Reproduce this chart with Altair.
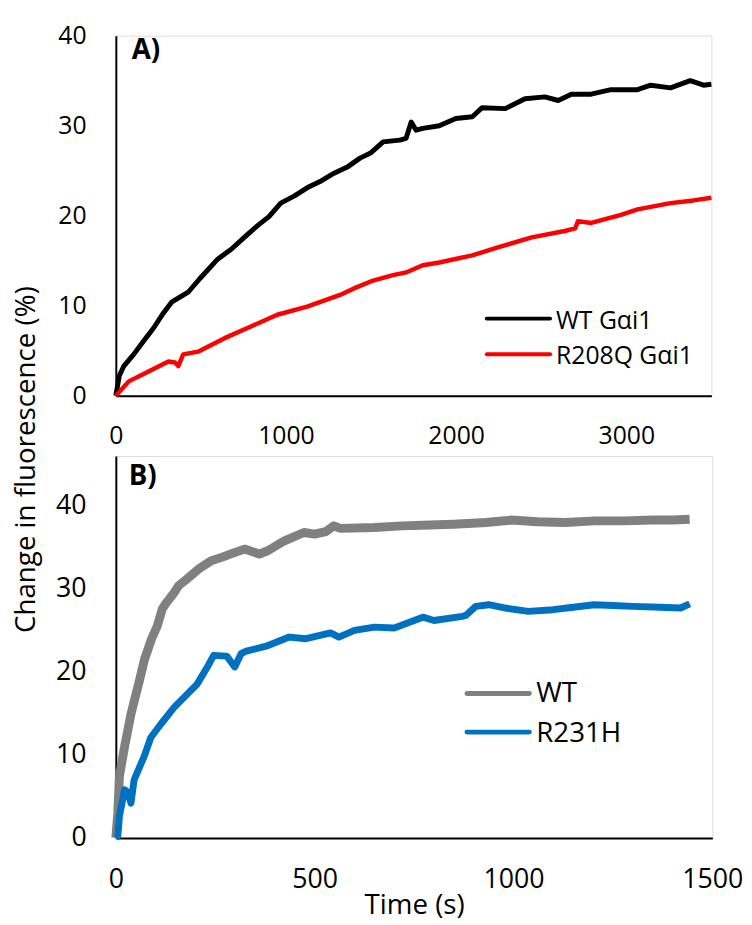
import altair as alt
import pandas as pd

# ---------------- Panel A data (time s, change %) ----------------
a_wt_t = [0, 20, 47, 105, 160, 221, 280, 328, 425, 493, 600, 680, 755, 833, 900, 969, 1050, 1124,
          1200, 1280, 1360, 1435, 1500, 1571, 1668, 1706, 1736, 1765, 1804, 1901, 1998, 2095, 2153,
          2289, 2405, 2522, 2600, 2677, 2794, 2910, 3066, 3143, 3260, 3376, 3454, 3500]
a_wt_v = [0, 2.2, 3.3, 4.6, 6.0, 7.5, 9.2, 10.4, 11.5, 13.0, 15.2, 16.3, 17.6, 18.9, 19.9, 21.4,
          22.2, 23.1, 23.8, 24.7, 25.4, 26.4, 27.0, 28.2, 28.4, 28.6, 30.4, 29.5, 29.7, 30.0, 30.8,
          31.0, 32.0, 31.9, 33.0, 33.2, 32.8, 33.5, 33.5, 34.0, 34.0, 34.5, 34.2, 35.0, 34.5, 34.6]

a_mut_t = [0, 76, 192, 309, 348, 367, 396, 483, 639, 794, 949, 1124, 1318, 1396, 1512, 1629,
           1706, 1804, 1901, 2095, 2250, 2444, 2638, 2700, 2716, 2794, 2969, 3066, 3260, 3395, 3500]
a_mut_v = [0, 1.6, 2.7, 3.8, 3.7, 3.3, 4.6, 4.9, 6.4, 7.7, 9.0, 9.9, 11.2, 11.9, 12.8, 13.4,
           13.7, 14.5, 14.8, 15.6, 16.5, 17.6, 18.3, 18.6, 19.4, 19.2, 20.1, 20.7, 21.4, 21.7, 22.0]

# ---------------- Panel B data ----------------
b_wt_t = [0, 5, 9, 22, 38, 59, 72, 90, 104, 117, 125, 146, 158, 179, 208, 240, 266, 300, 324,
          361, 382, 424, 473, 500, 528, 548, 565, 650, 720, 789, 850, 930, 995, 1060, 1130, 1204,
          1280, 1350, 1400, 1443]
b_wt_v = [0, 3.0, 7.4, 11.0, 14.9, 18.9, 21.5, 24.0, 25.5, 27.6, 28.2, 29.5, 30.4, 31.2, 32.4,
          33.4, 33.8, 34.4, 34.8, 34.2, 34.6, 35.8, 36.8, 36.6, 36.9, 37.6, 37.3, 37.4, 37.6, 37.7,
          37.8, 38.0, 38.3, 38.1, 38.0, 38.2, 38.2, 38.3, 38.3, 38.4]

b_mut_t = [0, 5, 9, 22, 30, 38, 46, 71, 88, 113, 146, 179, 204, 229, 246, 279, 299, 315,
           328, 378, 436, 478, 540, 561, 600, 650, 700, 772, 800, 871, 880, 905, 938, 980, 1037,
           1100, 1150, 1203, 1250, 1300, 1369, 1420, 1443]
b_mut_v = [0, 0.2, 2.6, 5.8, 5.5, 4.2, 7.0, 9.8, 12.1, 13.7, 15.7, 17.3, 18.5, 20.5, 22.0, 21.9,
           20.6, 22.2, 22.5, 23.1, 24.2, 24.0, 24.7, 24.2, 25.0, 25.4, 25.3, 26.6, 26.2, 26.7, 26.8,
           27.9, 28.1, 27.7, 27.3, 27.5, 27.8, 28.1, 28.0, 27.9, 27.8, 27.7, 28.2]

a_labels = ["WT Gαi1", "R208Q Gαi1"]
b_labels = ["WT", "R231H"]
a_colors = ["#000000", "#FF0000"]
b_colors = ["#808080", "#0070C0"]

FONT = "Open Sans"
dummy = pd.DataFrame({"k": [0]})

WA, HA = 602, 364
WB, HB = 603, 386

def ax(values, size, pad, **kw):
    return alt.Axis(values=values, grid=False, ticks=False, tickSize=0, domainColor="black",
                    domainWidth=2, labelFontSize=size, labelFont=FONT, labelColor="black",
                    labelPadding=pad, labelFlush=False, format="d", **kw)

# ---------------- Panel A ----------------
xA = alt.X("t:Q", scale=alt.Scale(domain=[0, 3500], nice=False),
           axis=ax([0, 1000, 2000, 3000], 25, 28), title=None)
yA = alt.Y("v:Q", scale=alt.Scale(domain=[0, 40], nice=False),
           axis=ax([0, 10, 20, 30, 40], 25, 30), title=None)

dfA1 = pd.DataFrame({"t": a_wt_t, "v": a_wt_v})
dfA2 = pd.DataFrame({"t": a_mut_t, "v": a_mut_v})

lineA1 = alt.Chart(dfA1).mark_line(color=a_colors[0], strokeWidth=5, strokeJoin="round").encode(x=xA, y=yA)
lineA2 = alt.Chart(dfA2).mark_line(color=a_colors[1], strokeWidth=4.5, strokeJoin="round").encode(x="t:Q", y="v:Q")

def txt(x, y, s, size, bold=False):
    return alt.Chart(dummy).mark_text(
        font=FONT, fontSize=size, fontWeight="bold" if bold else "normal",
        align="left", baseline="alphabetic", color="black"
    ).encode(x=alt.value(x), y=alt.value(y), text=alt.value(s))

def leg_line(x1, x2, y, color, w):
    return alt.Chart(dummy).mark_rule(color=color, strokeWidth=w, strokeCap="round").encode(
        x=alt.value(x1), x2=alt.value(x2), y=alt.value(y))

panelA = alt.layer(
    lineA1, lineA2,
    txt(16, 24, "A)", 28, bold=True),
    leg_line(375, 439, 286, a_colors[0], 4),
    leg_line(375, 439, 322, a_colors[1], 4),
    txt(445, 296, a_labels[0], 25),
    txt(445, 332, a_labels[1], 25),
).properties(width=WA, height=HA)

# ---------------- Panel B ----------------
xB = alt.X("t:Q", scale=alt.Scale(domain=[0, 1500], nice=False),
           axis=ax([0, 500, 1000, 1500], 27, 29, titleFont=FONT, titleFontSize=28,
                   titleFontWeight="normal", titleColor="black", titleY=76,
                   titleBaseline="alphabetic"),
           title="Time (s)")
yB = alt.Y("v:Q", scale=alt.Scale(domain=[0, 46], nice=False),
           axis=ax([0, 10, 20, 30, 40], 27, 30, titleFont=FONT, titleFontSize=28,
                   titleFontWeight="normal", titleColor="black", titleAngle=270,
                   titleX=-82, titleY=3, titleAlign="center", titleBaseline="alphabetic"),
           title="Change in fluorescence (%)")

dfB1 = pd.DataFrame({"t": b_wt_t, "v": b_wt_v})
dfB2 = pd.DataFrame({"t": b_mut_t, "v": b_mut_v})

lineB1 = alt.Chart(dfB1).mark_line(color=b_colors[0], strokeWidth=9, strokeJoin="round").encode(x=xB, y=yB)
lineB2 = alt.Chart(dfB2).mark_line(color=b_colors[1], strokeWidth=7, strokeJoin="round").encode(x="t:Q", y="v:Q")

panelB = alt.layer(
    lineB1, lineB2,
    txt(13, 29, "B)", 28, bold=True),
    leg_line(355, 418, 240, b_colors[0], 5),
    leg_line(355, 418, 279, b_colors[1], 5),
    txt(425, 249, b_labels[0], 28),
    txt(425, 289, b_labels[1], 28),
).properties(width=WB, height=HB)

chart = alt.vconcat(panelA, panelB, spacing=61, bounds="flush").properties(
    padding={"left": 4, "top": 10, "right": 0, "bottom": 0}
).configure_view(stroke=None).configure(font=FONT)

chart.save("out.html", embed_options={"renderer": "svg", "actions": False})
